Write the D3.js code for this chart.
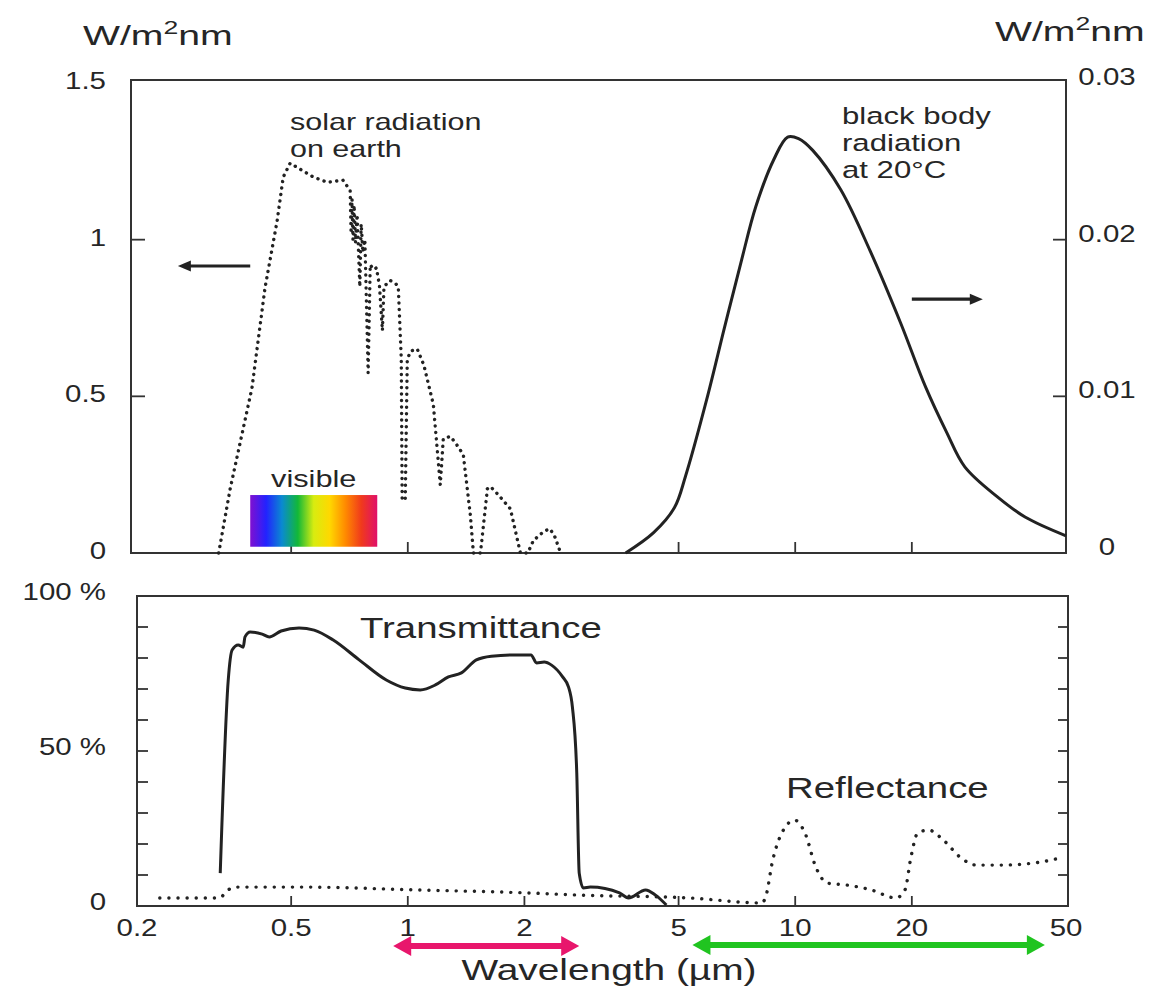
<!DOCTYPE html>
<html><head><meta charset="utf-8">
<script src="https://cdn.jsdelivr.net/npm/d3@7"></script>
<style>
body{margin:0;background:#fff}
svg{display:block}
text{font-family:"Liberation Sans",Arial,Helvetica,sans-serif;fill:#262626}
</style>
</head><body>
<svg id="c" width="1161" height="990"></svg>
<script>
// ---------- data (wavelength in µm) ----------
const solarWl  = [0.325,0.348,0.396,0.428,0.460,0.477,0.497,0.570,0.620,0.680,0.710,0.714,0.718,0.722,0.727,0.733,0.740,0.752,0.758,0.766,0.775,0.790,0.800,0.815,0.830,0.845,0.860,0.868,0.900,0.930,0.945,0.962,0.967,0.985,0.997,1.020,1.058,1.100,1.164,1.213,1.235,1.288,1.330,1.391,1.450,1.477,1.540,1.605,1.634,1.700,1.840,1.953,2.040,2.110,2.250,2.330,2.400,2.480];
const solarVal = [0,0.205,0.526,0.846,1.06,1.20,1.244,1.20,1.183,1.19,1.157,1.02,1.13,1.00,1.11,0.99,1.08,0.85,1.05,0.96,1.00,0.575,0.92,0.905,0.91,0.853,0.71,0.85,0.87,0.86,0.85,0.62,0.17,0.17,0.62,0.645,0.651,0.60,0.474,0.218,0.365,0.372,0.35,0.314,0.122,0,0,0.205,0.212,0.19,0.141,0,0,0.04,0.07,0.077,0.05,0];

const bbWl  = [3.65,4.31,4.88,5.21,5.91,6.57,7.27,7.91,8.80,9.56,10.2,11.1,13.1,15.6,18.7,21.7,24.6,27.4,33.2,39.2,50];
const bbVal = [0,0.0013,0.0029,0.0049,0.0098,0.0144,0.0187,0.0221,0.0251,0.02655,0.02645,0.0257,0.0232,0.0193,0.0147,0.0106,0.0077,0.0055,0.0036,0.0023,0.0011];

const transWl  = [0.328,0.344,0.352,0.365,0.376,0.380,0.392,0.421,0.439,0.471,0.524,0.573,0.642,0.749,0.880,0.985,1.077,1.178,1.273,1.375,1.503,1.643,1.885,2.08,2.15,2.25,2.35,2.51,2.60,2.66,2.73,2.77,2.84,2.96,3.52,3.71,4.11,4.36,4.65];
const transVal = [10.6,72.9,82.6,84.2,83.5,86.8,88.4,87.7,86.8,88.7,89.7,89.0,85.8,79.4,72.9,70.3,69.7,71.3,73.9,75.2,79.4,80.6,81.0,81.0,78.4,78.7,77.7,73.9,70.6,64.2,42.9,10.6,5.8,6.1,4.2,2.6,5.2,3.5,0.3];

const reflWl  = [0.229,0.326,0.344,0.358,0.537,1.05,2.06,2.81,5.31,8.19,8.39,8.75,9.23,9.97,10.6,11.3,12.1,13.5,15.7,18.2,19.2,19.9,20.7,22.1,24.1,26.8,29.3,34.0,43.1,49.4];
const reflVal = [2.6,2.6,5.2,6.1,6.1,5.2,4.2,3.5,2.6,1.0,2.9,14.8,23.5,27.7,23.5,12.6,7.4,6.8,5.2,2.6,5.2,15.8,23.5,24.5,21.3,15.5,13.2,13.2,14.2,15.8];

const xTickVals   = [0.2,0.5,1,2,5,10,20,50];
const xTickLabels = ["0.2","0.5","1","2","5","10","20","50"];
const topXTickMarks = [0.5,1,5,10,20];
const botXTickMarks = [0.5,1,2,5,10,20];
const leftTickVals   = [0,0.5,1,1.5];
const leftTickLabels = ["0","0.5","1","1.5"];
const rightTickVals   = [0,0.01,0.02,0.03];
const rightTickLabels = ["0","0.01","0.02","0.03"];
const pctTickVals   = [0,50,100];
const pctTickLabels = ["0","50 %","100 %"];
const pctMinor = [10,20,30,40,50,60,70,80,90];
const visibleRange = [0.392,0.834];
const visibleColors = ["#8010d0","#2222ff","#0a8ad0","#12b838","#d8ec10","#ffd800","#ff8a00","#f03a1c","#e0106a"];

// ---------- scales ----------
const svg = d3.select("#c");
const x  = d3.scaleLog().domain([0.2,50]).range([137,1066]);
const yL = d3.scaleLinear().domain([0,1.5]).range([553,83]);
const yR = d3.scaleLinear().domain([0,0.03]).range([553,83]);
const yP = d3.scaleLinear().domain([0,100]).range([906,596]);
const SX = 1.28;
const ink = "#222";

function txt(g, px, py, s, size, anchor, sx){
  return g.append("text")
    .attr("transform",`translate(${px},${py}) scale(${sx||SX},1)`)
    .attr("text-anchor",anchor||"start")
    .style("font-size",size+"px").text(s);
}

// ---------- frames ----------
const frames = svg.append("g").attr("fill","none").attr("stroke","#333").attr("stroke-width",2);
frames.append("rect").attr("x",131).attr("y",yL(1.5)-3).attr("width",1066-131).attr("height",yL(0)-yL(1.5)+3);
frames.append("rect").attr("x",137).attr("y",yP(100)).attr("width",1068-137).attr("height",yP(0)-yP(100));

// ---------- tick marks ----------
const tk = svg.append("g").attr("stroke","#333").attr("stroke-width",1.8);
topXTickMarks.forEach(v=>tk.append("line").attr("x1",x(v)).attr("x2",x(v)).attr("y1",yL(0)).attr("y2",yL(0)-11));
botXTickMarks.forEach(v=>tk.append("line").attr("x1",x(v)).attr("x2",x(v)).attr("y1",yP(0)).attr("y2",yP(0)-10));
[0.5,1].forEach(v=>tk.append("line").attr("x1",131).attr("x2",145).attr("y1",yL(v)).attr("y2",yL(v)));
[0.01,0.02].forEach(v=>tk.append("line").attr("x1",1066).attr("x2",1053).attr("y1",yR(v)).attr("y2",yR(v)));
pctMinor.forEach(v=>{
  tk.append("line").attr("x1",137).attr("x2",148).attr("y1",yP(v)).attr("y2",yP(v));
  tk.append("line").attr("x1",1068).attr("x2",1058).attr("y1",yP(v)).attr("y2",yP(v));
});

// ---------- tick labels ----------
const lab = svg.append("g");
xTickVals.forEach((v,i)=>txt(lab, x(v), 936, xTickLabels[i], 23, "middle"));
leftTickVals.forEach((v,i)=>txt(lab, 106, yL(v)+6, leftTickLabels[i], 23, "end"));
rightTickVals.forEach((v,i)=>txt(lab, 1107, yR(v)+2, rightTickLabels[i], 23, "middle"));
pctTickVals.forEach((v,i)=>txt(lab, 106, yP(v)+4, pctTickLabels[i], 23, "end"));

// units
function units(px, py){
  const t = svg.append("text")
    .attr("transform",`translate(${px},${py}) scale(1.4,1)`)
    .style("font-size","28px");
  t.append("tspan").text("W/m");
  t.append("tspan").attr("dy",-11).style("font-size","19px").text("2");
  t.append("tspan").attr("dy",11).text("nm");
}
units(83,45);
units(995,41);

// ---------- visible bar ----------
const grad = svg.append("defs").append("linearGradient").attr("id","vis");
visibleColors.forEach((c,i)=>grad.append("stop").attr("offset",(i/(visibleColors.length-1)*100)+"%").attr("stop-color",c));
svg.append("rect").attr("x",x(visibleRange[0])).attr("width",x(visibleRange[1])-x(visibleRange[0]))
  .attr("y",yL(0.185)).attr("height",yL(0.02)-yL(0.185)).attr("fill","url(#vis)");
txt(svg, (x(visibleRange[0])+x(visibleRange[1]))/2, 487, "visible", 24, "middle");

// ---------- curves ----------
const solar = solarWl.map((w,i)=>[w,solarVal[i]]);
const bb    = bbWl.map((w,i)=>[w,bbVal[i]]);
const trans = transWl.map((w,i)=>[w,transVal[i]]);
const refl  = reflWl.map((w,i)=>[w,reflVal[i]]);

svg.append("path").datum(solar)
  .attr("d", d3.line().x(d=>x(d[0])).y(d=>yL(d[1])).curve(d3.curveLinear))
  .attr("fill","none").attr("stroke",ink).attr("stroke-width",3.4)
  .attr("stroke-linecap","round").attr("stroke-dasharray","0.1 6.4");

svg.append("path").datum(bb)
  .attr("d", d3.line().x(d=>x(d[0])).y(d=>yR(d[1])).curve(d3.curveCatmullRom.alpha(0.5)))
  .attr("fill","none").attr("stroke",ink).attr("stroke-width",3);

svg.append("path").datum(refl)
  .attr("d", d3.line().x(d=>x(d[0])).y(d=>yP(d[1])).curve(d3.curveMonotoneX))
  .attr("fill","none").attr("stroke",ink).attr("stroke-width",3.4)
  .attr("stroke-linecap","round").attr("stroke-dasharray","0.1 9");

svg.append("path").datum(trans)
  .attr("d", d3.line().x(d=>x(d[0])).y(d=>yP(d[1])).curve(d3.curveMonotoneX))
  .attr("fill","none").attr("stroke",ink).attr("stroke-width",3).attr("stroke-linejoin","round");

// ---------- annotations ----------
txt(svg, 290, 130, "solar radiation", 24, "start", 1.27);
txt(svg, 290, 157, "on earth", 24, "start", 1.27);
txt(svg, 842, 124, "black body", 24.5, "start", 1.27);
txt(svg, 842, 151, "radiation", 24.5, "start", 1.27);
txt(svg, 842, 178, "at 20°C", 24.5, "start", 1.27);
txt(svg, 360, 638, "Transmittance", 30, "start");
txt(svg, 786, 798, "Reflectance", 30, "start");
txt(svg, 609, 980, "Wavelength (\u00b5m)", 29, "middle", 1.34);

function arrow(x1, x2, y, color, w, hl, hw, both){
  const g = svg.append("g");
  const a = both ? x1+hl-2 : x1, b = x2-hl+2;
  g.append("line").attr("x1",a).attr("x2",b).attr("y1",y).attr("y2",y).attr("stroke",color).attr("stroke-width",w);
  g.append("path").attr("d",`M${x2},${y} L${x2-hl},${y-hw} L${x2-hl},${y+hw} Z`).attr("fill",color);
  if(both) g.append("path").attr("d",`M${x1},${y} L${x1+hl},${y-hw} L${x1+hl},${y+hw} Z`).attr("fill",color);
}
// left-pointing arrow for solar curve -> left axis
(function(){
  const g = svg.append("g");
  const y = yL(0.916), xa = x(0.255), xb = x(0.392);
  g.append("line").attr("x1",xa+10).attr("x2",xb).attr("y1",y).attr("y2",y).attr("stroke",ink).attr("stroke-width",3.2);
  g.append("path").attr("d",`M${xa},${y} L${xa+13},${y-5.5} L${xa+13},${y+5.5} Z`).attr("fill",ink);
})();
// right-pointing arrow for black body -> right axis
arrow(x(20.0), x(30.5), yR(0.0162), ink, 3.2, 13, 5.5, false);
// coloured range arrows
arrow(x(0.917), x(2.77), 946, "#e8166c", 6, 18, 10, true);
arrow(x(5.43), x(44.1), 945, "#20c420", 6, 18, 10, true);
</script>
</body></html>
